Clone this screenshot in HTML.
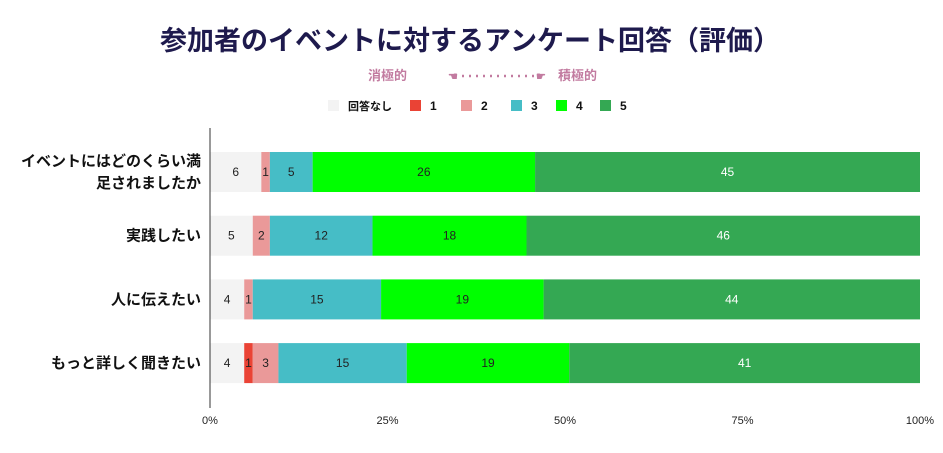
<!DOCTYPE html>
<html><head><meta charset="utf-8"><style>
body{margin:0;background:#fff;width:943px;height:448px;overflow:hidden;font-family:"Liberation Sans","Noto Sans CJK JP",sans-serif}
</style></head><body>
<svg id="chart" width="943" height="448" xmlns="http://www.w3.org/2000/svg" font-family="Liberation Sans, Noto Sans CJK JP, sans-serif">
<text x="470" y="50" text-anchor="middle" font-size="27" font-weight="bold" fill="#1e1a4d">参加者のイベントに対するアンケート回答（評価）</text>
<g fill="#c27ba0" font-size="13" font-weight="bold">
<text x="368" y="80">消極的</text>
<text x="448" y="80" font-size="11">☚</text>
<line x1="462" y1="76" x2="538" y2="76" stroke="#c27ba0" stroke-width="2.5" stroke-dasharray="2,5"/>
<text x="536" y="80" font-size="11">☛</text>
<text x="558" y="80">積極的</text>
</g>
<g id="legend"></g>
<g id="plot"></g>
</svg>
<script>
const categories=["イベントにはどのくらい満|足されましたか","実践したい","人に伝えたい","もっと詳しく聞きたい"];
const seriesNames=["回答なし","1","2","3","4","5"];
const s0=[6,5,4,4];
const s1=[0,0,0,1];
const s2=[1,2,1,3];
const s3=[5,12,15,15];
const s4=[26,18,19,19];
const s5=[45,46,44,41];
const tickLabels=["0%","25%","50%","75%","100%"];
const colors=["#f3f3f3","#ea4335","#ea9999","#46bdc6","#00ff00","#34a853"];
const series=[s0,s1,s2,s3,s4,s5];
const NS="http://www.w3.org/2000/svg";
const X0=210,X1=920,rowTop=152,rowStep=63.7,barH=40;
const xs=p=>X0+(X1-X0)*p;
const plot=document.getElementById('plot');
function mk(tag,attrs,parent){const e=document.createElementNS(NS,tag);for(const k in attrs)e.setAttribute(k,attrs[k]);parent.appendChild(e);return e;}
// axis ticks
tickLabels.forEach((t,i)=>{const x=xs(i/(tickLabels.length-1));
const tx=mk('text',{x:x,y:424,'text-anchor':'middle','font-size':11,fill:'#222'},plot);


tx.textContent=t;});
categories.forEach((c,ci)=>{
const y=rowTop+ci*rowStep;
const total=series.reduce((a,s)=>a+s[ci],0);
let acc=0;
series.forEach((s,si)=>{const v=s[ci];if(!v)return;
const x=xs(acc/total),w=xs((acc+v)/total)-x;
const r=mk('rect',{x:x,y:y,width:w,height:barH,fill:colors[si]},plot);


const t=mk('text',{x:x+w/2,y:y+barH/2+4,'text-anchor':'middle','font-size':12,fill:si===5?'#fff':'#222'},plot);


t.textContent=v;
acc+=v;});
const parts=c.split('|');
parts.forEach((p,pi)=>{const t=mk('text',{x:201,y:y+barH/2+5+(pi-(parts.length-1)/2)*22,'text-anchor':'end','font-size':15,'font-weight':'bold',fill:'#111'},plot);


t.textContent=p;});
});
const ax=mk('line',{x1:X0,y1:128,x2:X0,y2:408,stroke:'#333','stroke-width':1},plot);


// legend
const lg=document.getElementById('legend');
const lx=[328,410,461,511,556,600];
seriesNames.forEach((n,i)=>{
const g=mk('g',{},lg);


mk('rect',{x:lx[i],y:100,width:11,height:11,fill:colors[i]},g);
const t=mk('text',{x:lx[i]+20,y:110,'font-size':i===0?11:12,'font-weight':'bold',fill:'#111'},g);
t.textContent=n;});
</script>
</body></html>
